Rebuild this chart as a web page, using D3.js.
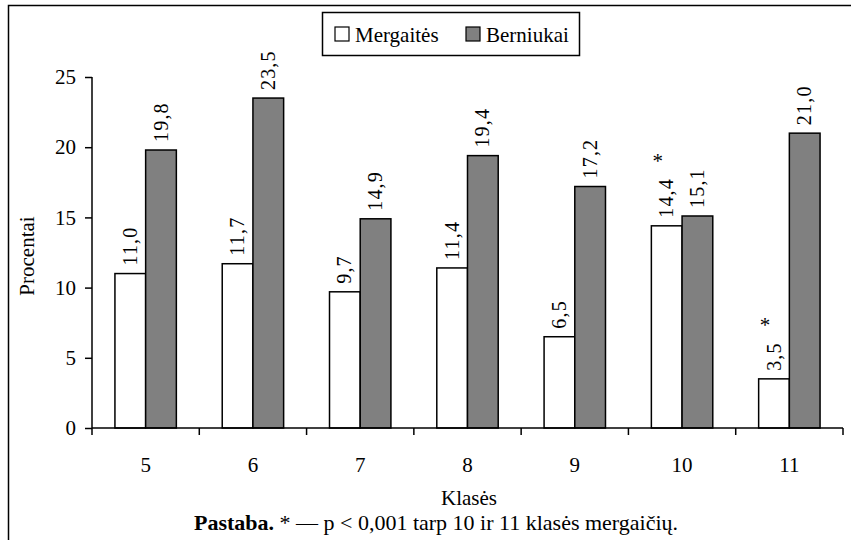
<!DOCTYPE html>
<html>
<head>
<meta charset="utf-8">
<script src="https://cdn.jsdelivr.net/npm/d3@7/dist/d3.min.js"></script>
<style>
  body { margin: 0; background: #fff; }
  svg text { font-family: "Liberation Serif", "Times New Roman", serif; }
</style>
</head>
<body>
<svg id="chart" width="851" height="540"></svg>
<script>
// duomenys
const klases = ["5", "6", "7", "8", "9", "10", "11"];
const serijos = ["Mergaitės", "Berniukai"];
const mergaites = [11.0, 11.7, 9.7, 11.4, 6.5, 14.4, 3.5];
const berniukai = [19.8, 23.5, 14.9, 19.4, 17.2, 15.1, 21.0];
const zvaigzdutes = ["10", "11"]; // p < 0,001 tik mergaitems
const yTicks = [0, 5, 10, 15, 20, 25];
const spalvos = ["#ffffff", "#808080"];

const svg = d3.select("#chart");

// rėmelis (tik viršus ir kairė matosi)
svg.append("path")
    .attr("d", "M8.5,545 L8.5,5.5 L851,5.5")
    .attr("fill", "none")
    .attr("stroke", "#000")
    .attr("stroke-width", 1.5);

const x = d3.scaleBand().domain(klases).range([92, 843]).padding(0);
const xSub = d3.scaleBand().domain(serijos).range([0, x.bandwidth()])
    .paddingInner(0).paddingOuter(0.747);
const y = d3.scaleLinear().domain([0, 25]).range([428, 77]);

// y ašis
const yAxis = svg.append("g")
    .attr("transform", "translate(92,0)")
    .call(d3.axisLeft(y).tickValues(yTicks).tickSize(7).tickPadding(9));
yAxis.select(".domain").attr("stroke-width", 1.5).attr("d", "M0,77V428");
yAxis.selectAll(".tick line").attr("stroke-width", 1.5);
yAxis.selectAll(".tick text").attr("font-size", 21).attr("fill", "#000");

// stulpeliai
const data = klases.map((k, i) => ({ klase: k, reiksmes: [mergaites[i], berniukai[i]] }));
const grupes = svg.selectAll("g.grupe")
    .data(data)
    .enter().append("g")
    .attr("class", "grupe")
    .attr("transform", d => `translate(${x(d.klase)},0)`);

grupes.selectAll("rect")
    .data(d => d.reiksmes.map((v, j) => ({ serija: serijos[j], v: v, j: j })))
    .enter().append("rect")
    .attr("x", d => xSub(d.serija))
    .attr("y", d => y(d.v))
    .attr("width", xSub.bandwidth())
    .attr("height", d => y(0) - y(d.v))
    .attr("fill", d => spalvos[d.j])
    .attr("stroke", "#000")
    .attr("stroke-width", 1.5);

// reikšmių užrašai (pasukti)
grupes.each(function(d) {
    const g = d3.select(this);
    d.reiksmes.forEach((v, j) => {
        const cx = xSub(serijos[j]) + xSub.bandwidth() / 2;
        const y0 = y(v) - 8;
        const t = g.append("text")
            .attr("transform", `translate(${cx},${y0}) rotate(-90)`)
            .attr("dy", "0.33em")
            .attr("font-size", 20)
            .attr("letter-spacing", 1.2)
            .text(v.toFixed(1).replace(".", ","));
        if (j === 0 && zvaigzdutes.includes(d.klase)) {
            const len = t.node().getComputedTextLength();
            g.append("text")
                .attr("x", cx - 9)
                .attr("y", y0 - len - 20 + 10)
                .attr("text-anchor", "middle")
                .attr("font-size", 21)
                .text("*");
        }
    });
});

// x ašis
const xAxisG = svg.append("g");
xAxisG.append("line")
    .attr("x1", 92).attr("x2", 843).attr("y1", 428).attr("y2", 428)
    .attr("stroke", "#000").attr("stroke-width", 1.5);
const ribos = klases.map(k => x(k)).concat([x.range()[1]]);
xAxisG.selectAll("line.tick")
    .data(ribos)
    .enter().append("line")
    .attr("class", "tick")
    .attr("x1", d => d).attr("x2", d => d)
    .attr("y1", 428).attr("y2", 435)
    .attr("stroke", "#000").attr("stroke-width", 1.5);
xAxisG.selectAll("text")
    .data(klases)
    .enter().append("text")
    .attr("x", d => x(d) + x.bandwidth() / 2)
    .attr("y", 472)
    .attr("text-anchor", "middle")
    .attr("font-size", 21)
    .text(d => d);

// ašių pavadinimai
svg.append("text")
    .attr("x", 469).attr("y", 505)
    .attr("text-anchor", "middle")
    .attr("font-size", 21)
    .text("Klasės");

svg.append("text")
    .attr("transform", "translate(34,256) rotate(-90)")
    .attr("text-anchor", "middle")
    .attr("font-size", 21)
    .text("Procentai");

// pastaba
const pastaba = svg.append("text")
    .attr("x", 436).attr("y", 530)
    .attr("text-anchor", "middle")
    .attr("font-size", 22);
pastaba.append("tspan").attr("font-weight", "bold").text("Pastaba.");
pastaba.append("tspan").text(" * — p < 0,001 tarp 10 ir 11 klasės mergaičių.");

// legenda
const legenda = svg.append("g");
legenda.append("rect")
    .attr("x", 322.5).attr("y", 12.5).attr("width", 257).attr("height", 43)
    .attr("fill", "#fff").attr("stroke", "#000").attr("stroke-width", 1.5);
const legX = [335, 466];
serijos.forEach((s, i) => {
    legenda.append("rect")
        .attr("x", legX[i]).attr("y", 27).attr("width", 14).attr("height", 14)
        .attr("fill", spalvos[i]).attr("stroke", "#000").attr("stroke-width", 1.2);
    legenda.append("text")
        .attr("x", legX[i] + 20).attr("y", 42)
        .attr("font-size", 21)
        .text(s);
});

// visiems tekstams – serif šriftas
svg.selectAll("text").attr("font-family", "Liberation Serif");
</script>
</body>
</html>
